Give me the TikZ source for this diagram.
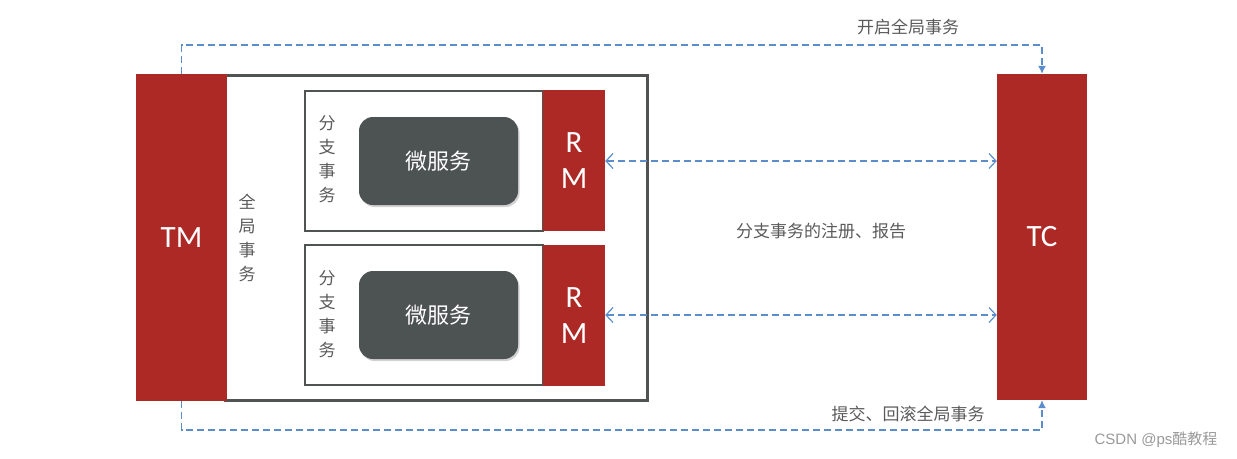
\documentclass[tikz,border=0pt]{standalone}
\usepackage{fontspec}
\setmainfont{Carlito}
\newfontfamily\cjk{Noto Sans CJK SC}
\newfontfamily\wmfont{Liberation Sans}
\usetikzlibrary{arrows.meta,shadows}
\definecolor{tred}{HTML}{AD2926}
\definecolor{boxgray}{HTML}{4F5453}
\definecolor{msgray}{HTML}{4D5252}
\definecolor{lineblue}{HTML}{5C8DCB}
\definecolor{txtgray}{HTML}{5A5A5A}
\tikzset{
  redbox/.style={fill=tred, draw=none, inner sep=0pt, text=white, font=\fontsize{31}{36}\selectfont, align=center},
  branchbox/.style={draw=boxgray, line width=1.7pt, fill=white, inner sep=0pt},
  msbox/.style={fill=msgray, rounded corners=14pt, inner sep=0pt, text=white, font=\cjk\fontsize{22}{24}\selectfont,
    drop shadow={shadow xshift=1.5pt, shadow yshift=-2pt, opacity=0.35}},
  vtext/.style={text=txtgray, font=\cjk\fontsize{17}{24}\selectfont, align=center, inner sep=0pt},
  lbl/.style={text=txtgray, font=\cjk\fontsize{17}{20}\selectfont, inner sep=0pt},
  conn/.style={draw=lineblue, line width=1.2pt, dash pattern=on 7pt off 4pt},
  open/.style={conn, {Straight Barb[length=7pt, width=15pt, line width=1.2pt]}-{Straight Barb[length=7pt, width=15pt, line width=1.2pt]}},
}
\begin{document}
\begin{tikzpicture}[x=1pt,y=-1pt]
\useasboundingbox (0,0) rectangle (1237,458);
% outer global transaction box
\node[draw=boxgray, line width=3pt, inner sep=0pt, minimum width=422.5pt, minimum height=324.5pt] (outer) at (436.25,237.75) {};
% TM
\node[redbox, minimum width=91pt, minimum height=327pt] (TM) at (181.5,237.5) {TM};
\node[vtext] (glob) at (247,238) {全\\局\\事\\务};
% branch 1
\node[branchbox, minimum width=238pt, minimum height=140pt] (b1) at (424,161) {};
\node[redbox, minimum width=62pt, minimum height=141pt] (RM1) at (574,160.5) {R\\M};
\node[msbox, minimum width=159pt, minimum height=88pt] (ms1) at (438.5,161) {微服务};
\node[vtext] (bt1) at (327,159) {分\\支\\事\\务};
% branch 2
\node[branchbox, minimum width=238pt, minimum height=140pt] (b2) at (424,315) {};
\node[redbox, minimum width=62pt, minimum height=141pt] (RM2) at (574,315.5) {R\\M};
\node[msbox, minimum width=159pt, minimum height=88pt] (ms2) at (438.5,315) {微服务};
\node[vtext] (bt2) at (327,314) {分\\支\\事\\务};
% TC
\node[redbox, minimum width=90pt, minimum height=326pt] (TC) at (1042,237) {TC};
% connectors
\coordinate (topy) at (0,45);
\coordinate (boty) at (0,430);
\draw[conn, -{Latex[length=8pt, width=8pt]}] (TM.north) |- (topy -| TC.north) -- (TC.north);
\draw[conn, -{Latex[length=8pt, width=8pt]}] (TM.south) |- (boty -| TC.south) -- (TC.south);
\draw[open] (RM1.east |- 0,161) -- (TC.west |- 0,161);
\draw[open] (RM2.east |- 0,315) -- (TC.west |- 0,315);
% labels
\node[lbl] (l1) at (908,27) {开启全局事务};
\node[lbl] (l2) at (821,231) {分支事务的注册、报告};
\node[lbl] (l3) at (908,414) {提交、回滚全局事务};
\node[text=gray!80, font=\wmfont\fontsize{15}{17}\selectfont, inner sep=0pt] (wm) at (1156,440) {CSDN @ps{\cjk 酷教程}};
\end{tikzpicture}
\end{document}
